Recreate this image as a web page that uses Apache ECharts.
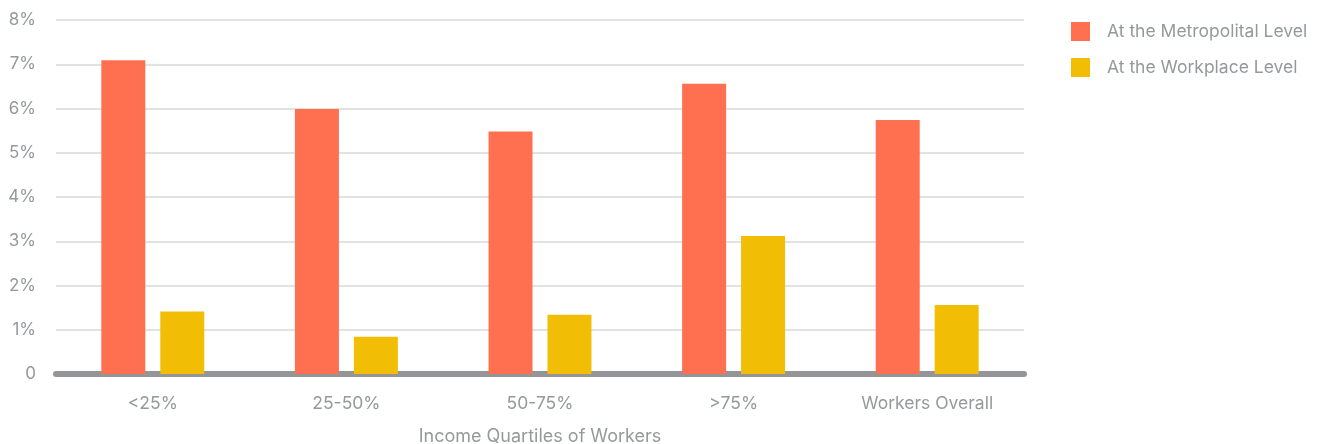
<!DOCTYPE html>
<html>
<head>
<meta charset="utf-8">
<script src="https://cdn.jsdelivr.net/npm/echarts@6/dist/echarts.min.js"></script>
<style>
  html, body { margin: 0; padding: 0; background: #fff; }
  #chart { width: 1322px; height: 444px; }
</style>
</head>
<body>
<div id="chart"></div>
<script>
// Income quartile groups along the x axis
const categories = ['<25%', '25-50%', '50-75%', '>75%', 'Workers Overall'];
// Shares (in percent) for each level
const metropolitalLevel = [7.09, 5.99, 5.48, 6.56, 5.74];
const workplaceLevel = [1.41, 0.84, 1.34, 3.12, 1.56];
const seriesNames = ['At the Metropolital Level', 'At the Workplace Level'];
const xAxisTitle = 'Income Quartiles of Workers';

const FONT = 'Inter, "Noto Sans", sans-serif';
const TEXT_GREY = '#95999c';

const chart = echarts.init(document.getElementById('chart'), null, { renderer: 'canvas' });
chart.setOption({
  animation: false,
  textStyle: { fontFamily: FONT },
  grid: { left: 56, right: 298, top: 20, bottom: 70, containLabel: false, outerBoundsMode: 'none' },
  legend: {
    orient: 'vertical',
    left: 1066,
    top: 17,
    itemWidth: 19,
    itemHeight: 19,
    itemGap: 17,
    icon: 'rect',
    textStyle: { color: TEXT_GREY, fontSize: 17.5, lineHeight: 19, fontFamily: FONT, padding: [0, 0, 0, 12] },
    data: seriesNames
  },
  xAxis: {
    type: 'category',
    data: categories,
    name: xAxisTitle,
    nameLocation: 'middle',
    nameGap: 54,
    nameTextStyle: { color: TEXT_GREY, fontSize: 18, fontFamily: FONT },
    axisLine: { show: true, lineStyle: { color: '#939598', width: 6 } },
    axisTick: { show: false },
    axisLabel: { color: TEXT_GREY, fontSize: 17.5, margin: 21, fontFamily: FONT }
  },
  yAxis: {
    type: 'value',
    min: 0,
    max: 8,
    interval: 1,
    axisLine: { show: false },
    axisTick: { show: false },
    axisLabel: {
      color: TEXT_GREY,
      fontSize: 17,
      margin: 20,
      fontFamily: FONT,
      formatter: v => (v === 0 ? '0' : v + '%')
    },
    splitLine: { lineStyle: { color: '#d9d9d9', width: 1.5 } }
  },
  series: [
    {
      name: seriesNames[0],
      type: 'bar',
      data: metropolitalLevel,
      barWidth: 44,
      barGap: '34%',
      itemStyle: { color: '#ff7050' }
    },
    {
      name: seriesNames[1],
      type: 'bar',
      data: workplaceLevel,
      barWidth: 44,
      itemStyle: { color: '#f2bd05' }
    }
  ]
});
</script>
</body>
</html>
